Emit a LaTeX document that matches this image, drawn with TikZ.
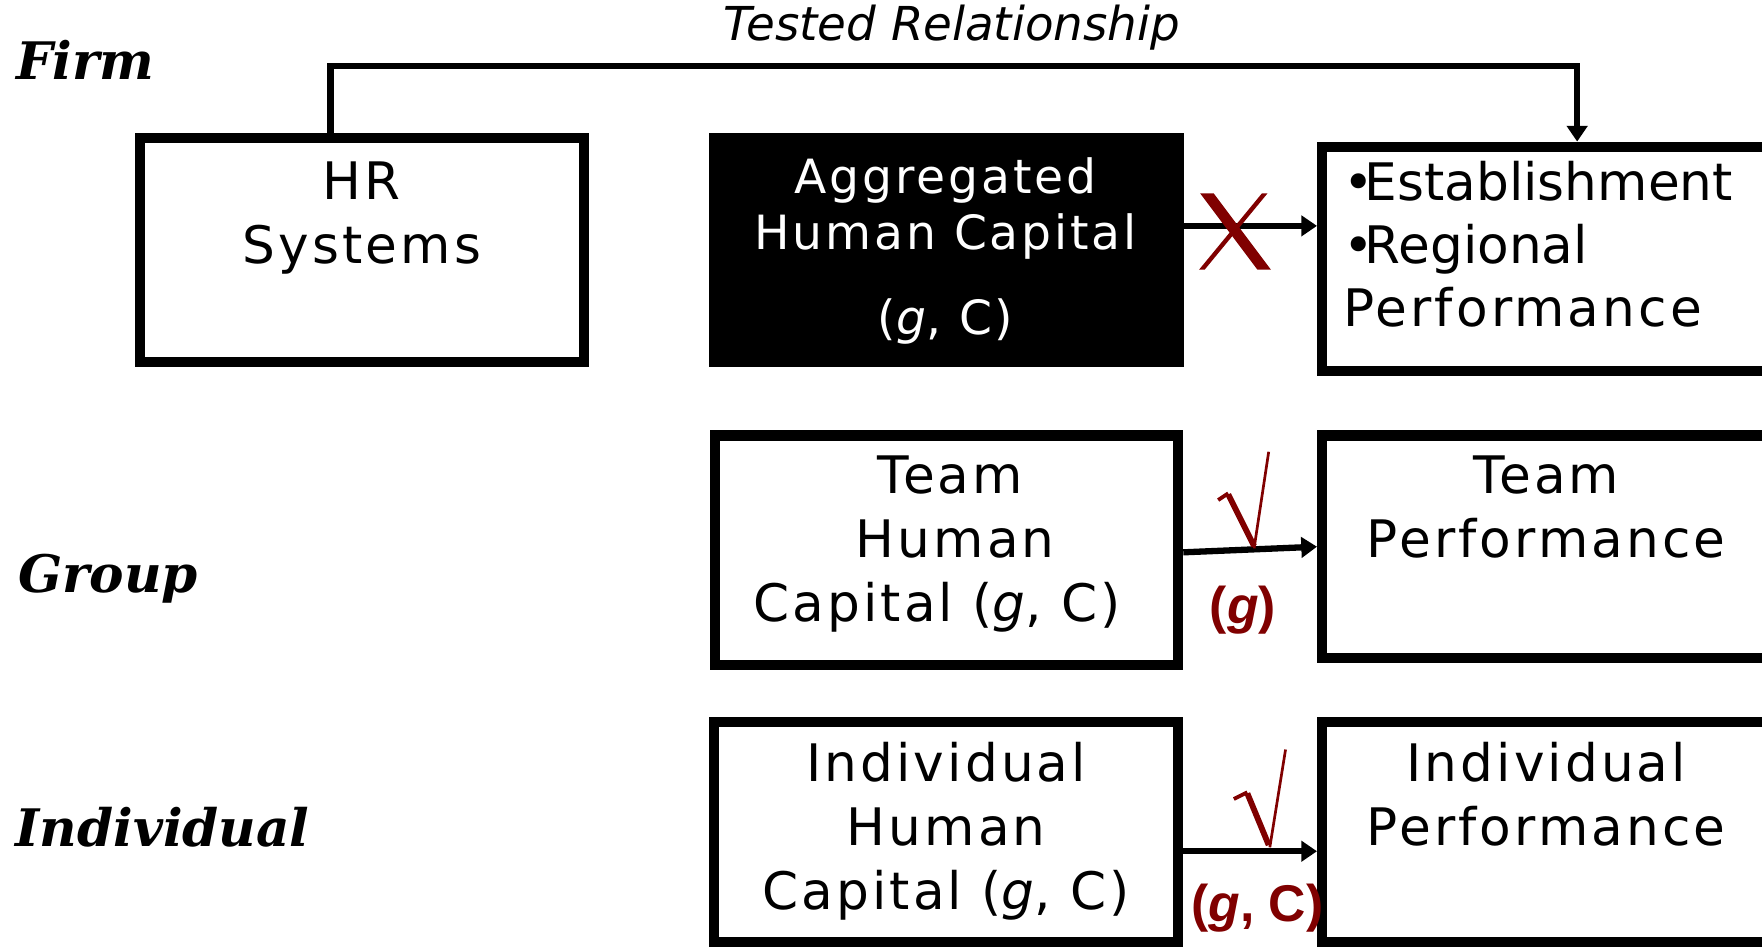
\documentclass[tikz,border=0pt]{standalone}
\usepackage{fontspec}
\setmainfont{DejaVu Sans}
\newfontfamily\boxfont{DejaVu Sans}[LetterSpace=6]
\newfontfamily\tierfont{DejaVu Serif}
\newfontfamily\notefont{Liberation Sans}
\usetikzlibrary{arrows.meta,fit}
\definecolor{dkred}{RGB}{128,0,0}
% fixed-height strut so the first baseline sits 20pt below a node's top
\newcommand{\fl}{\rule{0pt}{20pt}}

\begin{document}
\begin{tikzpicture}[x=0.5pt,y=-0.5pt,
  box/.style={draw=black, line width=4.5pt, inner sep=0pt, fill=white},
  solidbox/.style={fill=black, inner sep=0pt, outer sep=0pt},
  boxtext/.style={inner sep=0pt, anchor=north, align=center, font=\boxfont\fontsize{23}{28.5}\selectfont},
  tier/.style={inner sep=0pt, anchor=base west, font=\tierfont\bfseries\itshape\fontsize{23}{27}\selectfont},
  conn/.style={line width=2.8pt, -{Triangle[length=7pt,width=9pt]}},
  verdict/.style={inner sep=0pt, anchor=base, text=dkred, font=\notefont\bfseries\fontsize{23}{27}\selectfont},
  okline/.style={draw=dkred, line cap=butt, line join=miter}
]
\useasboundingbox (0,0) rectangle (1568,843);
\clip (0,0) rectangle (1568,843);

% level labels
\node[tier] (firm) at (14,70.6) {Firm};
\node[tier] (group) at (16,527.5) {Group};
\node[tier] (indiv) at (13.4,753.5) {Individual};

% firm level
\node[box, fit={(124.5,123) (519.5,322)}] (hr) {};
\node[solidbox, fit={(631,118) (1054,327)}] (agg) {};
\node[box, fit={(1176.5,130.5) (1620,330.5)}] (est) {};

% group level
\node[box, fit={(636.5,387.5) (1048.5,591.5)}] (thc) {};
\node[box, fit={(1176.5,387.5) (1620,585.5)}] (tperf) {};

% individual level
\node[box, fit={(635,642.5) (1048.5,838.5)}] (ihc) {};
\node[box, fit={(1176.5,642.5) (1620,838.5)}] (iperf) {};

% box texts
\node[boxtext] (hrtext) at (322,137) {\fl HR\\Systems};
\node[boxtext, text=white, font=\boxfont\fontsize{21}{25}\selectfont] (aggtext) at (841.5,131.5)
  {\fl Aggregated\\Human Capital\\[13pt](\textit{g}, C)};
\node[boxtext, anchor=north west, align=left, font=\fontsize{23}{28}\selectfont] (esttext) at (1195,138)
  {\fl •\kern-4pt Establishment\\•\kern-4pt Regional\\{\boxfont Performance}};
\node[boxtext] (thctext) at (834,399) {\fl\hspace*{11.5pt}Team\\\hspace*{16pt}Human\\Capital (\textit{g}, C)};
\node[boxtext] (tperftext) at (1376,399) {\fl Team\\Performance};
\node[boxtext] (ihctext) at (842,655) {\fl Individual\\Human\\Capital (\textit{g}, C)};
\node[boxtext] (iperftext) at (1376,655) {\fl Individual\\Performance};

% tested relationship
\node[inner sep=0pt, anchor=base, font=\itshape\fontsize{20.8}{24}\selectfont] (tested) at (847,36) {Tested Relationship};
\coordinate (tl) at (294,59);
\coordinate (tr) at (1403.5,59);
\draw[conn] (hr.north -| tl) -- (tl) -- (tr) -- (est.north -| tr);

% level arrows
\coordinate (yfirm) at (0,201);
\coordinate (ygrpa) at (0,491.5);
\coordinate (ygrpb) at (0,486.5);
\coordinate (yind) at (0,757.5);
\draw[conn] (agg.east |- yfirm) -- (est.west |- yfirm);
\draw[conn] (thc.east |- ygrpa) -- (tperf.west |- ygrpb);
\draw[conn] (ihc.east |- yind) -- (iperf.west |- yind);

% cross: no effect at firm level
\fill[dkred] (1068,172) -- (1080,172) -- (1131,240) -- (1119,240) -- cycle;
\fill[dkred] (1123,172) -- (1128,172) -- (1072,240) -- (1067,240) -- cycle;

% ticks: effects at group and individual level
\draw[okline, line width=1.7pt] (1084,445) -- (1093,439);
\draw[okline, line width=2.6pt] (1093,440) -- (1116,486);
\draw[okline, line width=1.2pt] (1116,488) -- (1129,402);
\draw[okline, line width=1.7pt] (1098,711) -- (1110,705);
\draw[okline, line width=2.6pt] (1110,706) -- (1129,752);
\draw[okline, line width=1.2pt] (1130,754) -- (1144,667);

\node[verdict] (gverdict) at (1106,555) {(\textit{g})};
\node[verdict] (gcverdict) at (1119,820) {(\textit{g}, C)};
\end{tikzpicture}
\end{document}
